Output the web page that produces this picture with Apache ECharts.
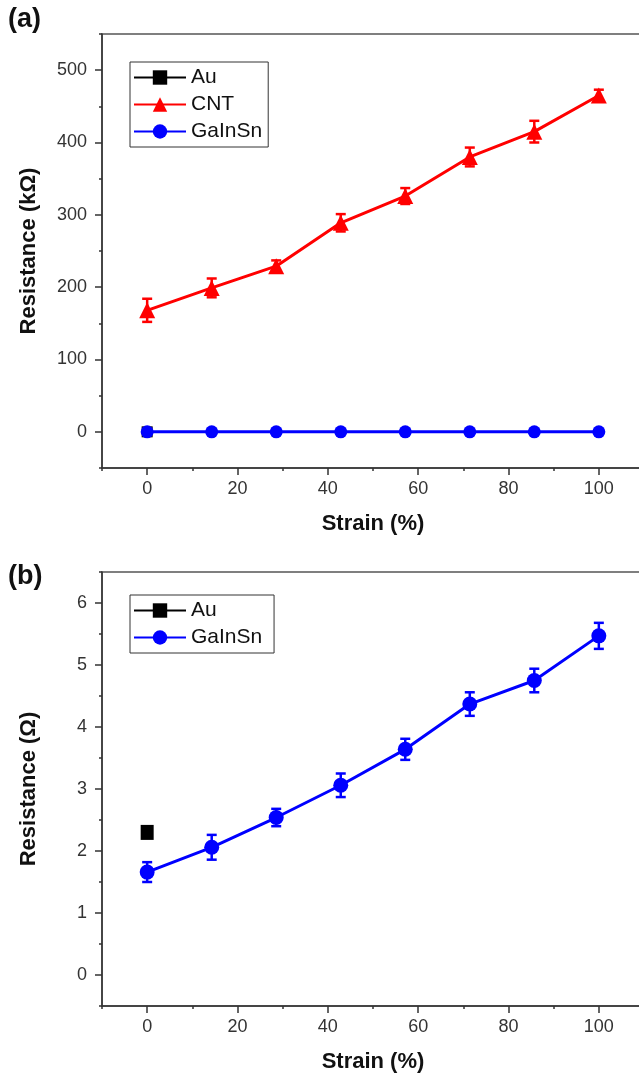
<!DOCTYPE html>
<html>
<head>
<meta charset="utf-8">
<script src="https://cdn.jsdelivr.net/npm/echarts@6/dist/echarts.min.js"></script>
<style>
  html, body { margin: 0; padding: 0; background: #fff; }
  #main { width: 639px; height: 1076px; }
</style>
</head>
<body>
<div id="main"></div>
<script>
// strain steps shared by both panels
const strain = [0, 14.29, 28.57, 42.86, 57.14, 71.43, 85.71, 100]

// panel (a), kOhm
const cntA = [168, 199, 229, 289, 326, 380, 415, 465]
const cntErrA = [16, 13, 8, 12, 11, 13, 15, 8]
const gaA = [0, 0, 0, 0, 0, 0, 0, 0]
const gaErrA = [3, 3, 3, 3, 3, 3, 3, 3]
const auA = [0]
const auErrA = [2]

// panel (b), Ohm
const gaB = [1.66, 2.06, 2.54, 3.06, 3.64, 4.37, 4.75, 5.47]
const gaErrB = [0.16, 0.2, 0.14, 0.19, 0.17, 0.19, 0.19, 0.21]
const auB = [2.3]
const auErrB = [0.06]

const tickA = [0, 100, 200, 300, 400, 500]
const tickB = [0, 1, 2, 3, 4, 5, 6]
const tickX = [0, 20, 40, 60, 80, 100]

const FONT = 'Liberation Sans, Arial, sans-serif'

const pts = (vals) => vals.map((v, i) => [strain[i], v])
const errPts = (vals, errs) => vals.map((v, i) => [strain[i], v - errs[i], v + errs[i]])

// 误差棒
function errorBar(color) {
  return function (params, api) {
    const top = api.coord([api.value(0), api.value(2)])
    const bot = api.coord([api.value(0), api.value(1)])
    const w = 5
    const style = { stroke: color, lineWidth: 2.5 }
    return {
      type: 'group',
      children: [
        { type: 'line', shape: { x1: top[0], y1: top[1], x2: bot[0], y2: bot[1] }, style },
        { type: 'line', shape: { x1: top[0] - w, y1: top[1], x2: top[0] + w, y2: top[1] }, style },
        { type: 'line', shape: { x1: bot[0] - w, y1: bot[1], x2: bot[0] + w, y2: bot[1] }, style },
      ],
    }
  }
}

function xAxes(grid) {
  return [
    {
      type: 'value', gridIndex: grid, position: 'bottom', min: -10, max: 110, interval: 10,
      name: 'Strain (%)', nameLocation: 'middle', nameGap: 45,
      nameTextStyle: { fontFamily: FONT, fontWeight: 'bold', fontSize: 22, color: '#111' },
      axisLine: { onZero: false, lineStyle: { color: '#333', width: 1.5 } },
      axisTick: { length: 3, lineStyle: { color: '#333', width: 1.5 } },
      axisLabel: { customValues: tickX, margin: 12, fontFamily: FONT, fontSize: 18, color: '#333' },
      splitLine: { show: false },
    },
    {
      type: 'value', gridIndex: grid, position: 'bottom', min: -10, max: 110, interval: 10,
      axisLine: { show: false, onZero: false },
      axisTick: { customValues: tickX, length: 7, lineStyle: { color: '#333', width: 1.5 } },
      axisLabel: { show: false },
      splitLine: { show: false },
    },
  ]
}

function yAxes(grid, min, max, step, ticks, name) {
  return [
    {
      type: 'value', gridIndex: grid, position: 'left', min, max, interval: step,
      name, nameLocation: 'middle', nameGap: 62, nameRotate: 90,
      nameTextStyle: { fontFamily: FONT, fontWeight: 'bold', fontSize: 22, color: '#111' },
      axisLine: { onZero: false, lineStyle: { color: '#333', width: 1.5 } },
      axisTick: { length: 3, lineStyle: { color: '#333', width: 1.5 } },
      axisLabel: { customValues: ticks, margin: 15, fontFamily: FONT, fontSize: 18, color: '#333' },
      splitLine: { show: false },
    },
    {
      type: 'value', gridIndex: grid, position: 'left', min, max, interval: step,
      axisLine: { show: false, onZero: false },
      axisTick: { customValues: ticks, length: 7, lineStyle: { color: '#333', width: 1.5 } },
      axisLabel: { show: false },
      splitLine: { show: false },
    },
  ]
}

const legendBase = {
  orient: 'vertical',
  left: 130,
  itemWidth: 52,
  itemHeight: 18,
  itemGap: 6,
  padding: [5, 6, 5, 3],
  borderColor: '#333',
  borderWidth: 1,
  textStyle: { fontFamily: FONT, fontSize: 21, color: '#111' },
}

const chart = echarts.init(document.getElementById('main'))
chart.setOption({
  backgroundColor: '#fff',
  animation: false,
  grid: [
    { left: 102, top: 34, width: 542, height: 434, outerBoundsMode: 'none', show: true, borderColor: '#555', borderWidth: 1.5 },
    { left: 102, top: 572, width: 542, height: 434, outerBoundsMode: 'none', show: true, borderColor: '#555', borderWidth: 1.5 },
  ],
  xAxis: [...xAxes(0), ...xAxes(1)],
  yAxis: [
    ...yAxes(0, -50, 550, 50, tickA, 'Resistance (kΩ)'),
    ...yAxes(1, -0.5, 6.5, 0.5, tickB, 'Resistance (Ω)'),
  ],
  legend: [
    { ...legendBase, top: 62, data: ['Au', 'CNT', 'GaInSn'] },
    { ...legendBase, top: 595, data: ['Au ', 'GaInSn '] },
  ],
  graphic: [
    { type: 'text', left: 8, top: 6, style: { text: '(a)', font: 'bold 27px ' + FONT, fill: '#111' } },
    { type: 'text', left: 8, top: 563, style: { text: '(b)', font: 'bold 27px ' + FONT, fill: '#111' } },
  ],
  series: [
    // panel (a)
    {
      name: 'Au', type: 'line', xAxisIndex: 0, yAxisIndex: 0, data: pts(auA),
      symbol: 'rect', symbolSize: 11, color: '#000', lineStyle: { width: 3 }, z: 2,
    },
    { name: 'Au err', type: 'custom', xAxisIndex: 0, yAxisIndex: 0, data: errPts(auA, auErrA), renderItem: errorBar('#000'), z: 2 },
    {
      name: 'CNT', type: 'line', xAxisIndex: 0, yAxisIndex: 0, data: pts(cntA),
      symbol: 'triangle', symbolSize: [16, 16], color: '#ff0000', lineStyle: { width: 3 }, z: 4,
    },
    { name: 'CNT err', type: 'custom', xAxisIndex: 0, yAxisIndex: 0, data: errPts(cntA, cntErrA), renderItem: errorBar('#ff0000'), z: 4 },
    {
      name: 'GaInSn', type: 'line', xAxisIndex: 0, yAxisIndex: 0, data: pts(gaA),
      symbol: 'circle', symbolSize: 13, color: '#0000ff', lineStyle: { width: 3 }, z: 6,
    },
    { name: 'GaInSn err', type: 'custom', xAxisIndex: 0, yAxisIndex: 0, data: errPts(gaA, gaErrA), renderItem: errorBar('#0000ff'), z: 6 },
    // panel (b)
    {
      name: 'Au ', type: 'line', xAxisIndex: 2, yAxisIndex: 2, data: pts(auB),
      symbol: 'rect', symbolSize: [13, 15], color: '#000', lineStyle: { width: 3 }, z: 3,
    },
    { name: 'Au err b', type: 'custom', xAxisIndex: 2, yAxisIndex: 2, data: errPts(auB, auErrB), renderItem: errorBar('#000'), z: 3 },
    {
      name: 'GaInSn ', type: 'line', xAxisIndex: 2, yAxisIndex: 2, data: pts(gaB),
      symbol: 'circle', symbolSize: 15, color: '#0000ff', lineStyle: { width: 3 }, z: 5,
    },
    { name: 'GaInSn err b', type: 'custom', xAxisIndex: 2, yAxisIndex: 2, data: errPts(gaB, gaErrB), renderItem: errorBar('#0000ff'), z: 5 },
  ],
})
</script>
</body>
</html>
